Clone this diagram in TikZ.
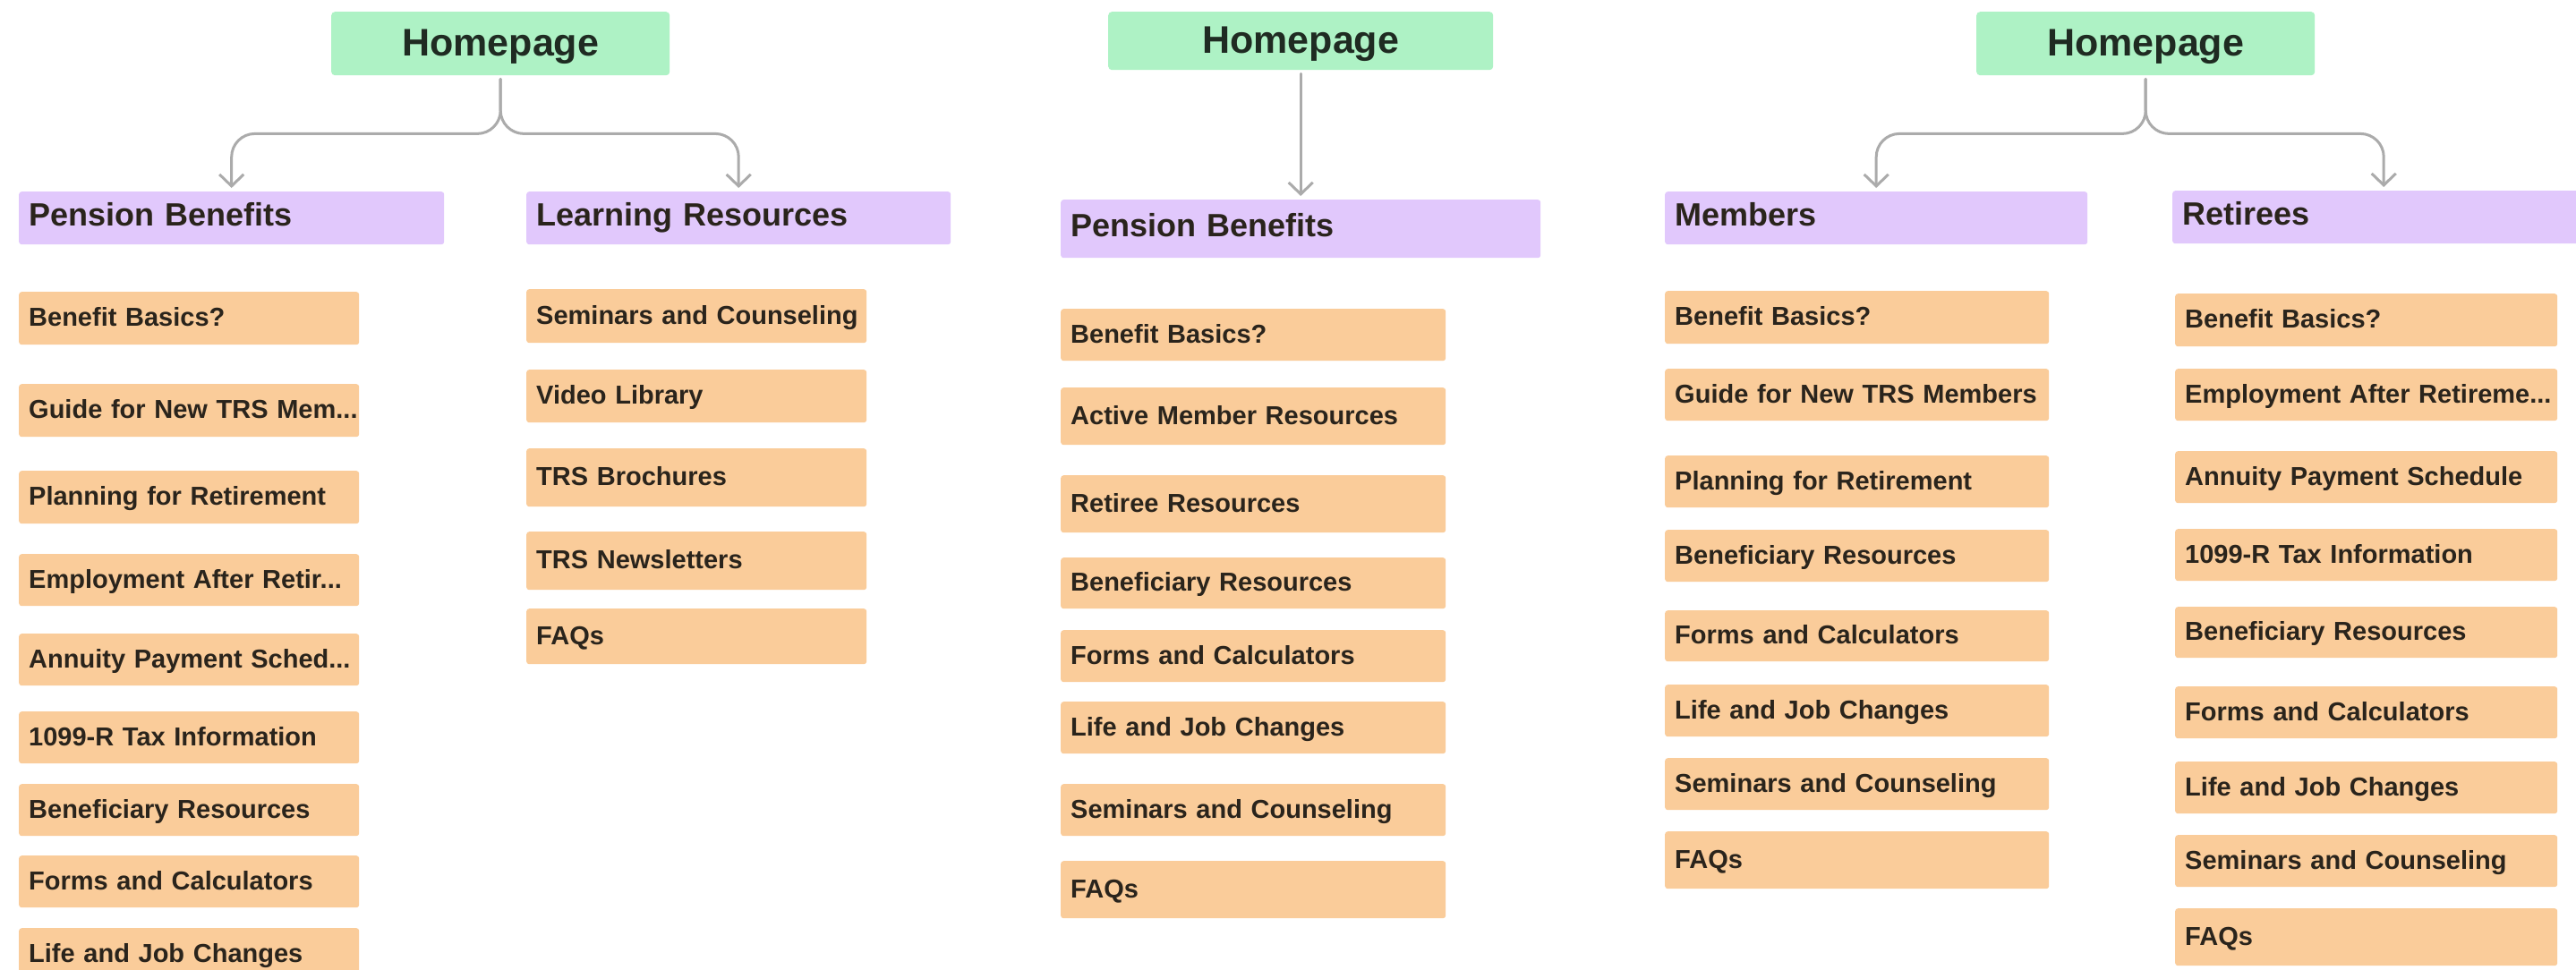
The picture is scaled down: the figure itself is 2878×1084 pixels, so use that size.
\documentclass[tikz,border=0pt]{standalone}
\usepackage{fontspec}
\setmainfont{Liberation Sans}
\usetikzlibrary{arrows.meta}
\definecolor{homegreen}{HTML}{AEF2C5}
\definecolor{homeink}{HTML}{1F2B22}
\definecolor{seclilac}{HTML}{E1C8FC}
\definecolor{pagepeach}{HTML}{FACC9A}
\definecolor{pageink}{HTML}{2A241C}
\definecolor{linkgray}{HTML}{ABABAB}
\newcommand{\clipdots}{...}
\begin{document}
\begin{tikzpicture}[x=1pt,y=-1pt,line join=round,line cap=round]
\tikzset{
  every node/.style={anchor=north west,inner sep=0pt},
  home/.style={fill=homegreen,text=homeink,rounded corners=4pt,align=center,
    font=\bfseries\fontsize{43}{50}\selectfont,text height=27pt,text depth=0pt},
  section/.style={fill=seclilac,text=pageink,rounded corners=3pt,inner xsep=11pt,
    align=left,text width=#1,font=\bfseries\fontsize{36}{42}\selectfont,
    text height=18pt,text depth=0pt},
  page/.style={fill=pagepeach,text=pageink,rounded corners=3pt,inner xsep=11pt,
    align=left,text width=#1,font=\bfseries\fontsize{29}{34}\selectfont,
    text height=18pt,text depth=0pt},
  link/.style={draw=linkgray,line width=3pt,rounded corners=26pt,
    -{Straight Barb[length=13pt,width=27pt]},shorten <=4pt,shorten >=4pt}
}
\useasboundingbox (0,0) rectangle (2878,1084);
\fill[white] (0,0) rectangle (2878,1084);

% first variant
\node[home,minimum width=378pt,minimum height=71pt] (hpA) at (370,13) {Homepage};
\node[section=453pt,minimum height=59pt] (pbA) at (21,214) {Pension Benefits};
\node[section=452pt,minimum height=59pt] (lrA) at (588,214) {Learning Resources};
\draw[link] (hpA.south) -- ++(0,65) -| (pbA.north);
\draw[link] (hpA.south) -- ++(0,65) -| (lrA.north);
\foreach \y/\h/\txt [count=\i] in {326/59/Benefit Basics?,429/59/Guide for New TRS Mem\clipdots,
    526/59/Planning for Retirement,619/58/Employment After Retir\clipdots,
    708/58/Annuity Payment Sched\clipdots,795/58/1099-R Tax Information,
    876/58/Beneficiary Resources,956/58/Forms and Calculators,1037/58/Life and Job Changes}
  \node[page=358pt,minimum height=\h pt] (pbA\i) at (21,\y) {\mbox{\txt}};
\foreach \y/\h/\txt [count=\i] in {323/60/Seminars and Counseling,413/59/Video Library,
    501/65/TRS Brochures,594/65/TRS Newsletters,680/62/FAQs}
  \node[page=358pt,minimum height=\h pt] (lrA\i) at (588,\y) {\mbox{\txt}};

% second variant
\node[home,minimum width=430pt,minimum height=65pt] (hpB) at (1238,13) {Homepage};
\node[section=514pt,minimum height=65pt] (pbB) at (1185,223) {Pension Benefits};
\draw[link] (hpB.south) -- (pbB.north);
\foreach \y/\h/\txt [count=\i] in {345/58/Benefit Basics?,433/64/Active Member Resources,
    531/64/Retiree Resources,623/57/Beneficiary Resources,704/58/Forms and Calculators,
    784/58/Life and Job Changes,876/58/Seminars and Counseling,962/64/FAQs}
  \node[page=408pt,minimum height=\h pt] (pbB\i) at (1185,\y) {\mbox{\txt}};

% third variant
\node[home,minimum width=378pt,minimum height=71pt] (hpC) at (2208,13) {Homepage};
\node[section=450pt,minimum height=59pt] (mbC) at (1860,214) {Members};
\node[section=450pt,minimum height=59pt] (rtC) at (2427,213) {Retirees};
\draw[link] (hpC.south) -- ++(0,65) -| (mbC.north);
\draw[link] (hpC.south) -- ++(0,65) -| (rtC.north);
\foreach \y/\h/\txt [count=\i] in {325/59/Benefit Basics?,412/58/Guide for New TRS Members,
    509/58/Planning for Retirement,592/58/Beneficiary Resources,682/57/Forms and Calculators,
    765/58/Life and Job Changes,847/58/Seminars and Counseling,929/64/FAQs}
  \node[page=407pt,minimum height=\h pt] (mbC\i) at (1860,\y) {\mbox{\txt}};
\foreach \y/\h/\txt [count=\i] in {328/59/Benefit Basics?,412/58/Employment After Retireme\clipdots,
    504/58/Annuity Payment Schedule,591/58/1099-R Tax Information,678/57/Beneficiary Resources,
    767/58/Forms and Calculators,851/58/Life and Job Changes,933/58/Seminars and Counseling,
    1015/64/FAQs}
  \node[page=405pt,minimum height=\h pt] (rtC\i) at (2430,\y) {\mbox{\txt}};
\end{tikzpicture}
\end{document}
